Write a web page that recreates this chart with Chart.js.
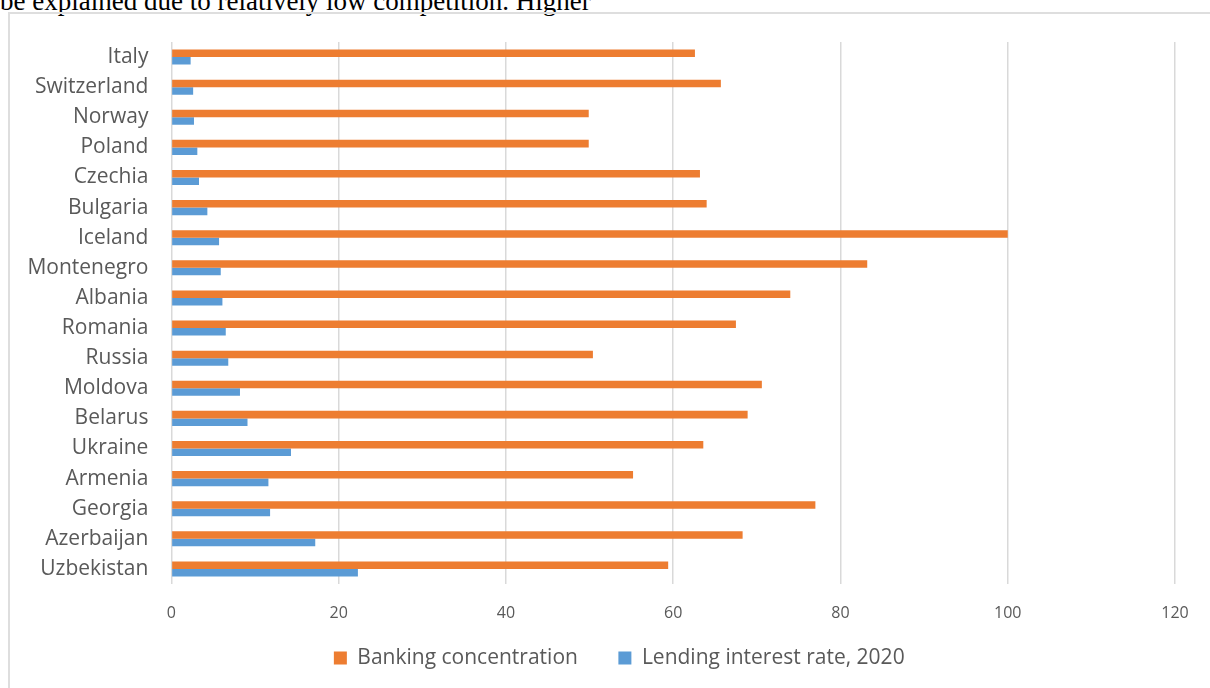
<!DOCTYPE html>
<html>
<head>
<meta charset="utf-8">
<script src="https://cdn.jsdelivr.net/npm/chart.js@4"></script>
<style>
  body { margin: 0; background: #fff; overflow: hidden; width: 1210px; height: 688px; position: relative; }
  #topText { position: absolute; left: 0; top: -12px; font-family: "Liberation Serif", serif; font-size: 27px; line-height: 27px; color: #000; white-space: nowrap; }
  #frame { position: absolute; left: 8px; top: 12px; width: 1300px; height: 800px; border: 2px solid #dedede; }
  #myChart { position: absolute; left: 0; top: 0; }
</style>
</head>
<body>
<div id="topText">be explained due to relatively low competition. Higher</div>
<div id="frame"></div>
<canvas id="myChart" width="1210" height="688"></canvas>

<script>
const countries = ["Italy", "Switzerland", "Norway", "Poland", "Czechia", "Bulgaria", "Iceland", "Montenegro", "Albania",
     "Romania", "Russia", "Moldova", "Belarus", "Ukraine", "Armenia", "Georgia", "Azerbaijan", "Uzbekistan"];
const bankingConcentration = [62.6, 65.7, 49.9, 49.9, 63.2, 64.0, 100, 83.2, 74.0, 67.5, 50.4, 70.6, 68.9, 63.6, 55.2, 77.0, 68.3, 59.4];
const lendingRate = [2.3, 2.6, 2.7, 3.1, 3.3, 4.3, 5.7, 5.9, 6.1, 6.5, 6.8, 8.2, 9.1, 14.3, 11.6, 11.8, 17.2, 22.3];
const xTicks = [0, 20, 40, 60, 80, 100, 120];

const labelFont = { family: "'Open Sans', sans-serif", size: 21 };
const greyText = "#595959";

const data = {
     labels: countries,
     datasets: [
          {
               label: "Banking concentration",
               data: bankingConcentration,
               backgroundColor: "#ED7D31",
               categoryPercentage: 0.5,
               barPercentage: 1.0
          },
          {
               label: "Lending interest rate, 2020",
               data: lendingRate,
               backgroundColor: "#5B9BD5",
               categoryPercentage: 0.5,
               barPercentage: 1.0
          }
     ]
};

// legend in the original sits a bit right of centre and closer to the axis
const moveLegend = {
     id: "moveLegend",
     afterLayout(chart) {
          chart.legend.left = 63.5;
          chart.legend.top = 607;
     }
};

const config = {
     type: "bar",
     data: data,
     options: {
          indexAxis: "y",
          responsive: false,
          animation: false,
          layout: { padding: { top: 42, right: 35, bottom: -7.5, left: 0 } },
          scales: {
               x: {
                    min: xTicks[0],
                    max: xTicks[xTicks.length - 1],
                    afterBuildTicks: (scale) => { scale.ticks = xTicks.map(v => ({ value: v })); },
                    afterFit: (scale) => { scale.height = 40; },
                    grid: { color: "#d9d9d9", lineWidth: 1.5, drawTicks: false },
                    border: { display: false },
                    ticks: { color: greyText, font: { family: "'Open Sans', sans-serif", size: 16 }, padding: 20 }
               },
               y: {
                    afterFit: (scale) => { scale.width = 171.4; },
                    grid: { display: false, drawTicks: false },
                    border: { display: false },
                    ticks: { color: greyText, font: labelFont, padding: 23, autoSkip: false }
               }
          },
          plugins: {
               legend: {
                    position: "bottom",
                    labels: { color: greyText, font: labelFont, boxWidth: 13, boxHeight: 13, padding: 40.5 }
               },
               tooltip: { enabled: false }
          }
     },
     plugins: [moveLegend]
};

const myChart = new Chart(document.getElementById("myChart"), config);
</script>
</body>
</html>
